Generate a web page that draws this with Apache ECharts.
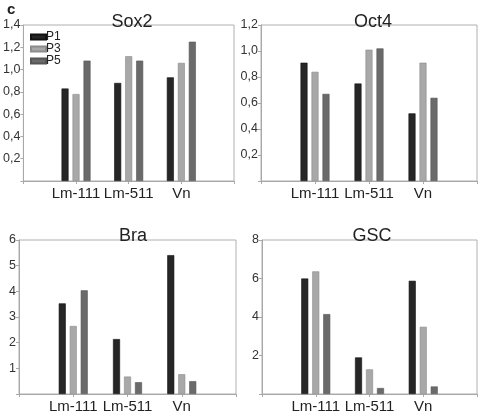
<!DOCTYPE html>
<html>
<head>
<meta charset="utf-8">
<script src="https://cdn.jsdelivr.net/npm/echarts@6/dist/echarts.min.js"></script>
<style>html,body{margin:0;padding:0;background:#fff}#c{width:480px;height:414px}</style>
</head>
<body>
<div id="c"></div>
<script>
var categories = ['Lm-111', 'Lm-511', 'Vn'];
var seriesNames = ['P1', 'P3', 'P5'];
var panelTitles = ['Sox2', 'Oct4', 'Bra', 'GSC'];

var sox2P1 = [0.83, 0.88, 0.93];
var sox2P3 = [0.78, 1.12, 1.06];
var sox2P5 = [1.08, 1.08, 1.25];

var oct4P1 = [0.91, 0.75, 0.52];
var oct4P3 = [0.84, 1.01, 0.91];
var oct4P5 = [0.67, 1.02, 0.64];

var braP1 = [3.53, 2.14, 5.41];
var braP3 = [2.65, 0.68, 0.77];
var braP5 = [4.04, 0.46, 0.50];

var gscP1 = [6.00, 1.90, 5.88];
var gscP3 = [6.37, 1.28, 3.49];
var gscP5 = [4.15, 0.31, 0.39];

var yMax = [1.4, 1.2, 6, 8];
var yInterval = [0.2, 0.2, 1, 2];
var yDecimals = [1, 1, 0, 0];

var panelData = [
  [sox2P1, sox2P3, sox2P5],
  [oct4P1, oct4P3, oct4P5],
  [braP1, braP3, braP5],
  [gscP1, gscP3, gscP5]
];

var colors = ['#262626', '#a8a8a8', '#6a6a6a'];
var borders = ['#111111', '#8c8c8c', '#555555'];
var font = 'Liberation Sans, Arial, sans-serif';

var grids = [
  {left: 19, top: 25, width: 215, height: 156},
  {left: 261, top: 25, width: 218, height: 156},
  {left: 19, top: 240, width: 217, height: 156},
  {left: 262, top: 240, width: 216, height: 156}
];
var titlePos = [
  {x: 127, y: 8}, {x: 368, y: 8}, {x: 128, y: 222}, {x: 367, y: 222}
];

var xCats = [''].concat(categories).concat(['']);

var option = {
  backgroundColor: '#fff',
  animation: false,
  textStyle: {fontFamily: font},
  title: [{text: 'c', left: 2, top: -3, textStyle: {fontSize: 15, fontWeight: 'bold', color: '#222', fontFamily: font}}],
  legend: {
    data: seriesNames,
    orient: 'vertical',
    left: 25,
    top: 26,
    itemWidth: 15,
    itemHeight: 5,
    itemGap: 0,
    icon: 'rect',
    textStyle: {fontSize: 12, lineHeight: 10, color: '#222', padding: [0, 0, 0, -5], fontFamily: font}
  },
  grid: [],
  xAxis: [],
  yAxis: [],
  series: []
};

grids.forEach(function (g, i) {
  option.grid.push({
    left: g.left, top: g.top, width: g.width, height: g.height,
    show: true, borderColor: '#b0b0b0', borderWidth: 1, backgroundColor: 'transparent',
    containLabel: false
  });
  option.title.push({
    text: panelTitles[i], left: titlePos[i].x, top: titlePos[i].y, textAlign: 'center',
    textStyle: {fontSize: 18, fontWeight: 'normal', color: '#222', fontFamily: font}
  });
  option.xAxis.push({
    type: 'category', gridIndex: i, data: xCats, boundaryGap: false,
    axisLine: {lineStyle: {color: '#a8a8a8'}},
    axisTick: {show: true, length: 3, lineStyle: {color: '#a8a8a8'}},
    axisLabel: {fontSize: 15, color: '#222', margin: 5, interval: 0, fontFamily: font},
    splitLine: {show: false}
  });
  (function (idx) {
    option.yAxis.push({
      type: 'value', gridIndex: idx, min: 0, max: yMax[idx], interval: yInterval[idx],
      axisLine: {show: true, lineStyle: {color: '#a8a8a8'}},
      axisTick: {show: true, length: 3, lineStyle: {color: '#a8a8a8'}},
      axisLabel: {
        fontSize: 12.5, color: '#333', margin: 3, fontFamily: font,
        formatter: function (v) {
          if (v === 0) return '';
          return v.toFixed(yDecimals[idx]).replace('.', ',');
        }
      },
      splitLine: {show: false}
    });
  })(i);
  seriesNames.forEach(function (name, s) {
    option.series.push({
      type: 'bar', name: name, xAxisIndex: i, yAxisIndex: i,
      data: [null].concat(panelData[i][s]).concat([null]),
      barWidth: 7, barGap: '57%',
      itemStyle: {color: colors[s], borderColor: borders[s], borderWidth: 0.6}
    });
  });
});

var chart = echarts.init(document.getElementById('c'), null, {renderer: 'canvas'});
chart.setOption(option);
</script>
</body>
</html>
